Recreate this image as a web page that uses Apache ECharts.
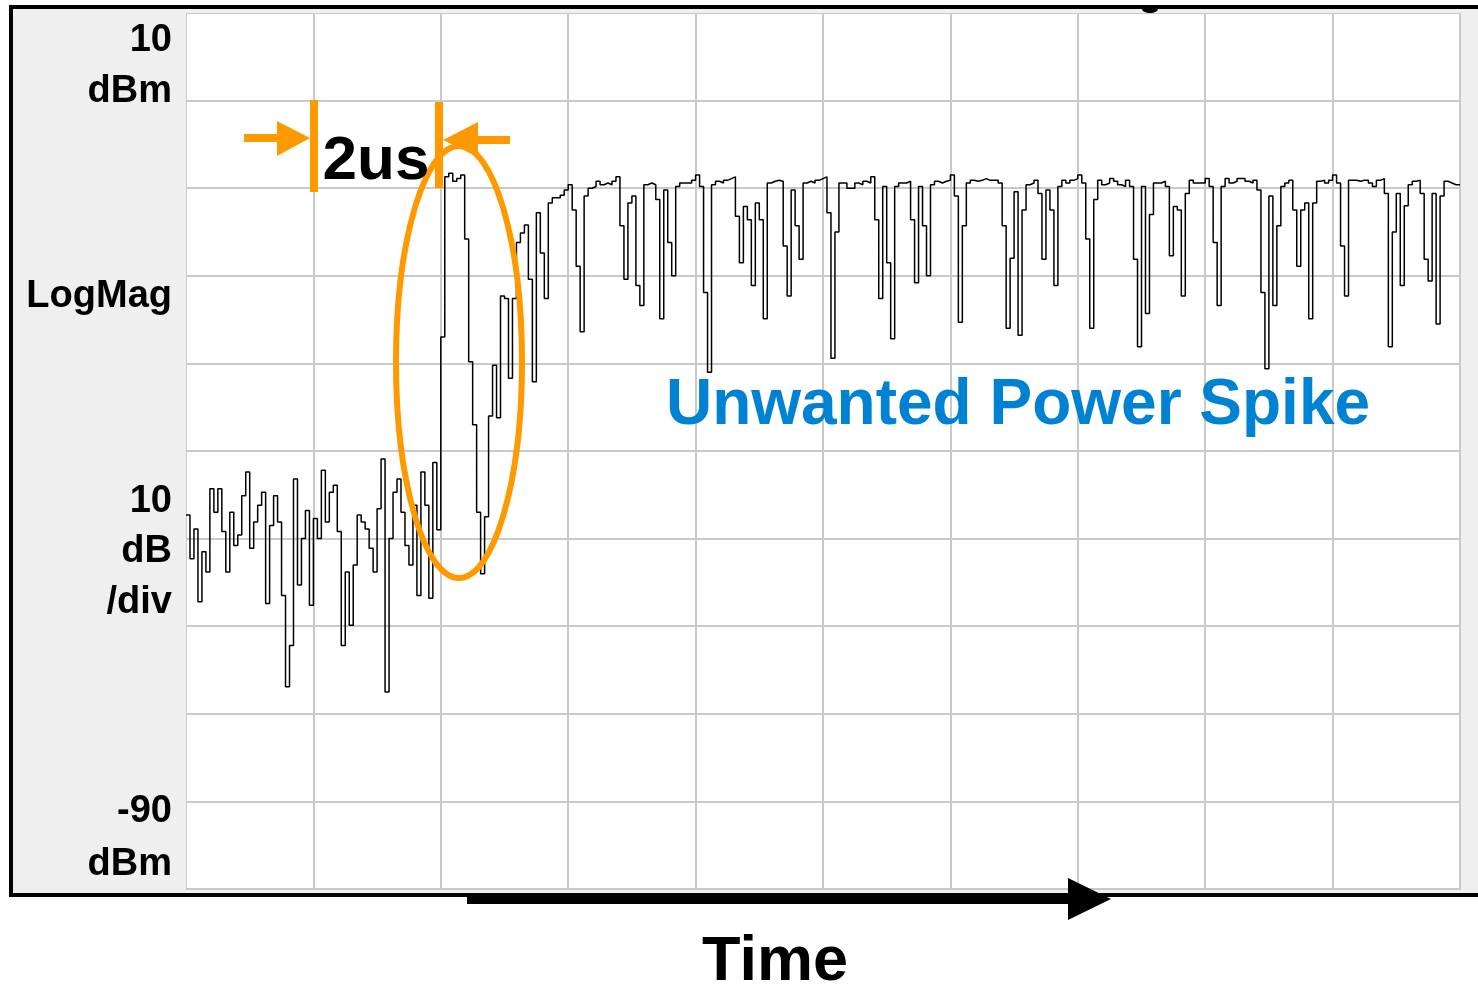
<!DOCTYPE html>
<html>
<head>
<meta charset="utf-8">
<title>LogMag power vs time</title>
<script src="https://cdn.jsdelivr.net/npm/echarts@6/dist/echarts.min.js"></script>
<style>
  html, body { margin: 0; padding: 0; background: #fff; }
  #chart { width: 1478px; height: 991px; }
</style>
</head>
<body>
<div id="chart"></div>
<script>
// time axis: 10 divisions of 2 us
const timeMinUs = 0
const timeMaxUs = 20
const timePerDivUs = 2
const sampleStepUs = 0.0625

// amplitude axis: 10 dBm top, -90 dBm bottom, 10 dB/div
const dbmTop = 10
const dbmBottom = -90
const dbPerDiv = 10

// trace, one value per sample (dBm)
const powerDbm = [
  -47.3, -52.3, -48.9, -57.2, -51.5, -53.8, -44.3, -47.0, -44.3, -49.2,
  -53.8, -47.0, -50.8, -49.6, -45.1, -42.4, -51.1, -48.1, -46.2, -44.7,
  -57.4, -48.5, -45.1, -48.1, -56.5, -66.9, -62.2, -43.2, -55.3, -50.0,
  -46.8, -57.6, -47.7, -50.0, -42.2, -48.1, -44.7, -43.9, -49.2, -62.2,
  -53.8, -59.9, -53.0, -47.3, -48.1, -48.9, -51.1, -53.8, -46.6, -40.9,
  -67.5, -50.0, -44.7, -43.2, -47.0, -50.8, -53.0, -46.2, -56.5, -42.4,
  -46.2, -56.8, -41.3, -49.0, -27.0, -8.7, -8.3, -9.2, -8.9, -8.5,
  -15.8, -29.8, -37.0, -47.0, -54.0, -47.5, -36.0, -30.2, -36.2, -22.3,
  -22.6, -31.7, -22.6, -16.2, -15.1, -14.2, -20.4, -32.1, -12.8, -17.4,
  -22.6, -11.7, -11.1, -11.1, -10.8, -10.2, -9.6, -12.5, -18.9, -26.4,
  -10.9, -10.0, -9.8, -9.2, -9.6, -9.4, -9.6, -9.2, -8.7, -14.3,
  -20.4, -11.7, -10.9, -21.1, -23.4, -9.6, -9.4, -9.6, -11.3, -24.9,
  -10.2, -16.2, -20.0, -9.8, -9.4, -9.4, -9.4, -9.1, -8.5, -9.8,
  -21.9, -31.0, -9.6, -9.2, -9.4, -9.1, -8.9, -8.7, -13.2, -18.5,
  -12.1, -13.6, -21.1, -11.7, -13.6, -24.9, -9.4, -9.2, -9.1, -9.2,
  -16.6, -22.3, -10.2, -14.3, -18.1, -9.4, -9.2, -9.4, -9.1, -8.9,
  -8.7, -12.8, -29.4, -15.0, -9.4, -9.4, -10.0, -10.0, -9.4, -9.6,
  -9.2, -9.4, -8.7, -13.6, -22.6, -9.8, -18.5, -27.2, -9.8, -9.4,
  -9.4, -9.2, -13.6, -20.8, -9.8, -14.3, -20.0, -9.6, -9.2, -9.4,
  -9.2, -9.1, -8.5, -10.9, -25.3, -14.3, -9.4, -9.1, -9.2, -9.1,
  -8.9, -9.1, -9.1, -9.1, -9.4, -14.3, -26.0, -18.0, -10.4, -26.8,
  -12.5, -9.6, -9.4, -9.1, -10.6, -18.1, -10.2, -12.5, -21.1, -9.8,
  -9.1, -9.4, -9.1, -8.9, -8.5, -9.4, -15.8, -26.0, -11.3, -9.1,
  -9.6, -9.4, -8.9, -9.2, -9.6, -9.8, -9.1, -9.8, -18.1, -28.1,
  -9.8, -24.3, -13.0, -9.4, -9.4, -9.2, -9.8, -17.7, -12.1, -12.5,
  -22.3, -10.6, -9.1, -9.4, -9.4, -9.4, -8.9, -9.8, -16.2, -23.4,
  -9.8, -8.9, -9.4, -9.2, -8.9, -8.9, -9.2, -9.4, -9.1, -10.2,
  -21.9, -30.6, -10.9, -23.4, -14.3, -9.8, -9.4, -9.1, -12.5, -18.9,
  -12.5, -11.7, -24.9, -11.7, -9.2, -9.1, -9.4, -9.1, -8.5, -9.4,
  -16.6, -22.3, -9.1, -9.1, -9.2, -9.1, -9.1, -9.4, -9.8, -9.1,
  -8.9, -10.6, -28.1, -15.0, -10.6, -21.1, -12.0, -9.6, -9.2, -9.1,
  -10.6, -18.1, -20.6, -10.6, -25.5, -10.9, -9.2, -9.4, -9.6, -9.6,
  -9.6
]

// left panel scale labels: [text, centre y]
const scaleLabels = [
  ['10', 41], ['dBm', 92],
  ['LogMag', 297],
  ['10', 502], ['dB', 552], ['/div', 603],
  ['-90', 812], ['dBm', 865]
]

const annotationText = 'Unwanted Power Spike'
const spanText = '2us'
const timeText = 'Time'

const FONT = '"Liberation Sans", Arial, Helvetica, sans-serif'
const ORANGE = '#ff9900'
const BLUE = '#0082d2'
const PANEL = '#efefef'
const GRID = '#c9c9c9'

const traceData = powerDbm.map((v, i) => [i * sampleStepUs, v])

const chart = echarts.init(document.getElementById('chart'), null, { renderer: 'canvas' })

const graphics = [
  // grey instrument panel around the plot
  { type: 'rect', shape: { x: 13, y: 9, width: 173, height: 884 }, style: { fill: PANEL }, z: 1 },
  { type: 'rect', shape: { x: 186, y: 9, width: 1292, height: 4 }, style: { fill: PANEL }, z: 1 },
  { type: 'rect', shape: { x: 1461, y: 13, width: 17, height: 880 }, style: { fill: PANEL }, z: 1 },
  { type: 'rect', shape: { x: 186, y: 890, width: 1292, height: 3 }, style: { fill: PANEL }, z: 1 },
  // black frame
  { type: 'rect', shape: { x: 9, y: 5, width: 1469, height: 4 }, style: { fill: '#000' }, z: 2 },
  { type: 'rect', shape: { x: 9, y: 5, width: 4, height: 892 }, style: { fill: '#000' }, z: 2 },
  { type: 'rect', shape: { x: 9, y: 893, width: 1469, height: 4 }, style: { fill: '#000' }, z: 2 },
  { type: 'ellipse', shape: { cx: 1150, cy: 9, rx: 8, ry: 4 }, style: { fill: '#000' }, z: 2 },
  // time arrow
  { type: 'rect', shape: { x: 467, y: 893, width: 603, height: 11 }, style: { fill: '#000' }, z: 3 },
  { type: 'polygon', shape: { points: [[1068, 878], [1068, 920], [1111, 899]] }, style: { fill: '#000' }, z: 3 },
  {
    type: 'text', x: 775, y: 963, z: 3,
    style: { text: timeText, font: 'bold 63px ' + FONT, fill: '#000', align: 'center', verticalAlign: 'middle' }
  },
  // 2us span markers
  { type: 'rect', shape: { x: 310, y: 100, width: 8, height: 92 }, style: { fill: ORANGE }, z: 20 },
  { type: 'rect', shape: { x: 435, y: 102, width: 8, height: 86 }, style: { fill: ORANGE }, z: 20 },
  { type: 'rect', shape: { x: 244, y: 134, width: 35, height: 8 }, style: { fill: ORANGE }, z: 20 },
  { type: 'polygon', shape: { points: [[277, 121], [277, 156], [310, 138]] }, style: { fill: ORANGE }, z: 20 },
  { type: 'rect', shape: { x: 476, y: 136, width: 34, height: 8 }, style: { fill: ORANGE }, z: 20 },
  { type: 'polygon', shape: { points: [[478, 122], [478, 157], [443, 140]] }, style: { fill: ORANGE }, z: 20 },
  {
    type: 'text', x: 376, y: 162, z: 21,
    style: { text: spanText, font: 'bold 62px ' + FONT, fill: '#000', align: 'center', verticalAlign: 'middle' }
  },
  // spike ring
  {
    type: 'ellipse', shape: { cx: 459, cy: 362, rx: 63, ry: 216 }, z: 20,
    style: { fill: 'none', stroke: ORANGE, lineWidth: 6 }
  },
  {
    type: 'text', x: 1018, y: 406, z: 21,
    style: { text: annotationText, font: 'bold 64px ' + FONT, fill: BLUE, align: 'center', verticalAlign: 'middle' }
  }
]

scaleLabels.forEach(([t, y]) => {
  graphics.push({
    type: 'text', x: 172, y: y, z: 5,
    style: { text: t, font: 'bold 38px ' + FONT, fill: '#000', align: 'right', verticalAlign: 'middle' }
  })
})

chart.setOption({
  animation: false,
  backgroundColor: '#fff',
  grid: {
    left: 186,
    top: 13,
    width: 1274,
    height: 876,
    show: true,
    backgroundColor: '#fff',
    borderColor: GRID,
    borderWidth: 2
  },
  xAxis: {
    type: 'value',
    min: timeMinUs,
    max: timeMaxUs,
    interval: timePerDivUs,
    axisLine: { show: false },
    axisTick: { show: false },
    axisLabel: { show: false },
    splitLine: { show: true, lineStyle: { color: GRID, width: 2 } }
  },
  yAxis: {
    type: 'value',
    min: dbmBottom,
    max: dbmTop,
    interval: dbPerDiv,
    axisLine: { show: false },
    axisTick: { show: false },
    axisLabel: { show: false },
    splitLine: { show: true, lineStyle: { color: GRID, width: 2 } }
  },
  series: [
    {
      name: 'LogMag',
      type: 'line',
      step: 'end',
      data: traceData,
      showSymbol: false,
      lineStyle: { color: '#000', width: 1.5 },
      z: 5
    }
  ],
  graphic: { elements: graphics }
})
</script>
</body>
</html>
